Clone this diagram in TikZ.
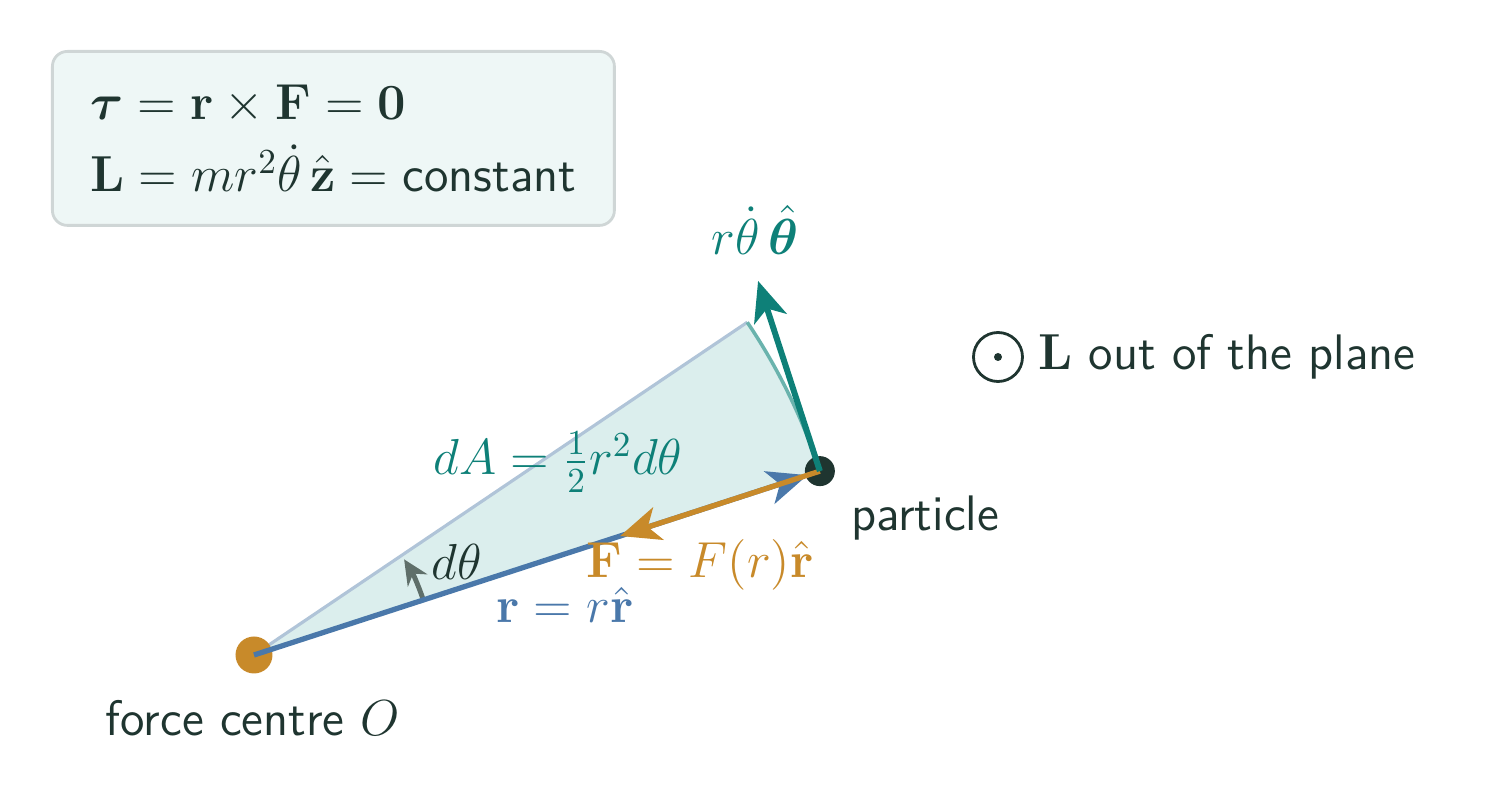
\documentclass[tikz,border=0pt]{standalone}
\usepackage{amsmath,bm}
\usetikzlibrary{arrows.meta,positioning}
\definecolor{ink}{HTML}{1F3530}
\definecolor{tealc}{HTML}{0E8078}
\definecolor{arcc}{HTML}{6AB3AD}
\definecolor{orangec}{HTML}{C88A2A}
\definecolor{bluec}{HTML}{4A78AA}
\definecolor{edgec}{HTML}{B0C4D8}
\definecolor{wedgec}{HTML}{DBEEED}
\definecolor{greyc}{HTML}{5F6F6A}
\definecolor{boxfill}{HTML}{EEF7F6}
\definecolor{boxline}{HTML}{CFD6D6}
\tikzset{
  vec/.style={line width=1.7pt,-{Stealth[length=4mm,width=3.4mm,inset=1.1mm]}},
  lbl/.style={font=\fontsize{14.2}{17}\selectfont\sffamily,text=ink},
}
\begin{document}
\begin{tikzpicture}[lbl]
  \useasboundingbox (0,0) rectangle (14.88,7.99);
  \coordinate (O) at (2.54,1.44);
  \path (O) ++(18:5.95) coordinate (P)
        (O) ++(34:5.95) coordinate (Q);

  % swept area
  \fill[wedgec] (O) -- (P) arc[start angle=18,end angle=34,radius=5.95] -- cycle;
  \draw[edgec,line width=0.9pt] (O) -- (Q);
  \draw[arcc,line width=1pt] (P) arc[start angle=18,end angle=34,radius=5.95];
  \draw[greyc,line width=1.4pt,-{Stealth[length=2.5mm,width=2.3mm]}]
    (O) ++(18:1.78) arc[start angle=18,end angle=32.5,radius=1.78];

  \node[circle,fill=orangec,inner sep=0pt,minimum size=0.37cm] (force) at (O) {};
  \node[circle,fill=ink,inner sep=0pt,minimum size=0.3cm] (part) at (P) {};
  \draw[vec,bluec,line width=1.5pt,shorten >=0.13cm] (O) -- (P);
  \draw[vec,orangec,line width=1.5pt] (P) -- ++(198:2.1) coordinate (Ftip);
  \draw[vec,tealc] (P) -- ++(108:2.0) coordinate (Ttip);

  \node[text=tealc] (vth) at (7.55,5.69) {$r\dot\theta\,\hat{\bm\theta}$};
  \node[text=tealc] (dA) at (5.58,3.37) {$dA=\frac{1}{2}r^2d\theta$};
  \node[text=orangec] (Flbl) at (7.00,2.34) {$\mathbf{F}=F(r)\hat{\mathbf{r}}$};
  \node[text=bluec] (rlbl) at (5.65,1.94) {$\mathbf{r}=r\hat{\mathbf{r}}$};
  \node (dth) at (4.57,2.37) {$d\theta$};
  \node (plbl) at (9.25,2.81) {particle};
  \node (Olbl) at (2.53,0.81) {force centre $O$};

  % out of plane marker
  \node[circle,draw=ink,line width=0.8pt,minimum size=0.49cm,inner sep=0pt] (Ldot) at (9.98,4.42) {};
  \fill[ink] (Ldot) circle (0.04);
  \node[right=0.02cm of Ldot] (Llbl) {$\mathbf{L}$ out of the plane};

  \node[draw=boxline,fill=boxfill,line width=0.8pt,rounded corners=0.15cm,
        anchor=north west,minimum width=5.62cm,minimum height=1.74cm,
        align=left,inner xsep=0.32cm] (laws) at (0.51,7.49)
    {$\bm\tau=\mathbf{r}\times\mathbf{F}=\mathbf{0}$\\[0.12cm]
     $\mathbf{L}=mr^2\dot\theta\,\hat{\mathbf{z}}=\text{constant}$};
\end{tikzpicture}
\end{document}
